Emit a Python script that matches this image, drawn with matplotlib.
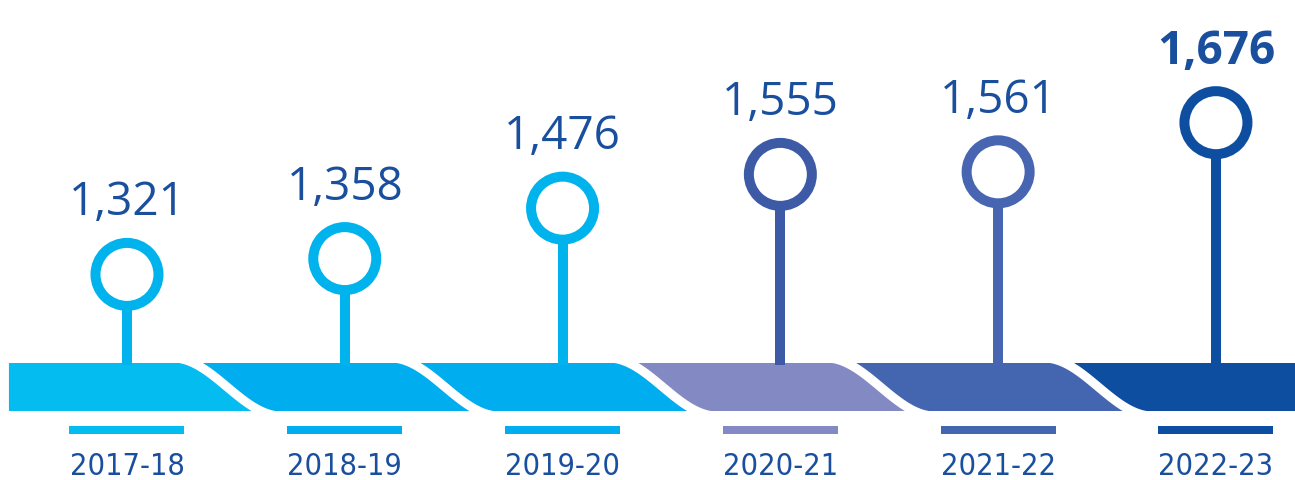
import numpy as np
import matplotlib.pyplot as plt
from matplotlib.patches import Polygon

# data
years = ["2017-18", "2018-19", "2019-20", "2020-21", "2021-22", "2022-23"]
counts = [1321, 1358, 1476, 1555, 1561, 1676]

band_colors = ["#05bcf1", "#00aeef", "#00aeef", "#8289c3", "#4466b0", "#0e4ea1"]
pin_colors = ["#00b3ec", "#00b3ec", "#00b3ec", "#3d5aa6", "#4765b0", "#0e4ea1"]
text_color = "#1a4f9e"

W, H = 1295, 480
PX = 72 / 100  # points per pixel at dpi 100

fig = plt.figure(figsize=(W / 100, H / 100), dpi=100)
ax = fig.add_axes([0, 0, 1, 1])
ax.set_xlim(-0.583, 5.363)
ax.set_ylim(840, 1963)
ax.axis("off")

x = np.arange(len(years))
trans = ax.get_xaxis_transform()  # x in data, y in axes fraction


def frac(py):
    return 1 - py / H


# ribbon along the bottom, split by S-shaped white cuts
band_top, band_bot = 363, 411
cut_w = 0.5
cuts = x[:-1] + 0.46


def cut_x(d, py):
    s = np.arccos(np.clip(1 - 2 * (py - (band_top - 5)) / 58, -1, 1)) / np.pi
    return d - cut_w / 2 + cut_w * s


ys = np.linspace(band_top, band_bot, 80)
for i, c in enumerate(band_colors):
    left = np.full_like(ys, -0.542) if i == 0 else cut_x(cuts[i - 1], ys)
    right = np.full_like(ys, 5.4) if i == len(x) - 1 else cut_x(cuts[i], ys)
    pts = np.column_stack([np.r_[left, right[::-1]], frac(np.r_[ys, ys[::-1]])])
    ax.add_patch(Polygon(pts, closed=True, facecolor=c, edgecolor="none",
                         transform=trans, zorder=1))

s = np.linspace(0, 1, 120)
for d in cuts:
    cx = d - cut_w / 2 + cut_w * s
    cy = band_top - 5 + 58 * (1 - np.cos(np.pi * s)) / 2
    ax.plot(cx, frac(cy), transform=trans, color="white", lw=9 * PX,
            solid_capstyle="butt", zorder=2)

# stems + rings
ylo, yhi = ax.get_ylim()
base = ylo + frac(band_top + 2) * (yhi - ylo)
ax.vlines(x, base, counts, colors=pin_colors, lw=10 * PX, zorder=3)
ax.scatter(x, counts, s=(63 * PX) ** 2, facecolors="white",
           edgecolors=pin_colors, linewidths=10 * PX, zorder=4)

for i, v in enumerate(counts):
    last = i == len(counts) - 1
    ax.annotate(f"{v:,}", (i, v), xytext=(0, 59 * PX), textcoords="offset points",
                ha="center", va="baseline", color=text_color,
                fontsize=33, family="Open Sans",
                fontweight="bold" if last else "normal")

# short bars and year labels
ax.hlines([frac(430)] * len(x), x - 0.264, x + 0.264, colors=band_colors,
          lw=8 * PX, transform=trans)
for i, yr in enumerate(years):
    ax.text(i, frac(475), yr, transform=trans, ha="center", va="baseline",
            color=text_color, fontsize=22, family="DejaVu Sans",
            fontstretch="condensed")

fig.savefig("out.png", dpi=100)
